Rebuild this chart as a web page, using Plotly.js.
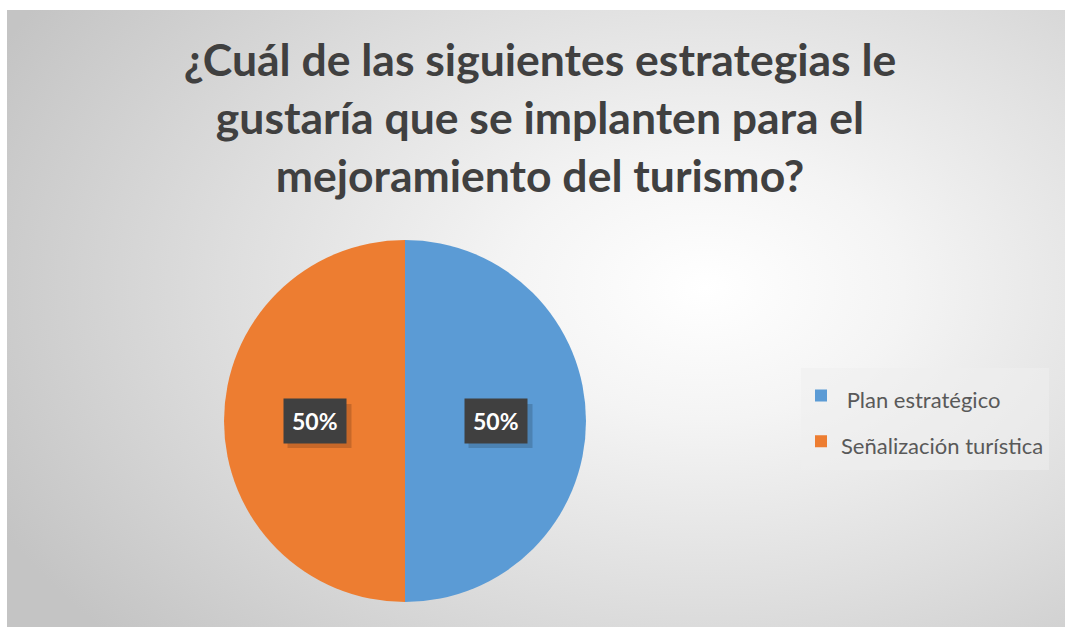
<!DOCTYPE html>
<html>
<head>
<meta charset="utf-8">
<script src="https://cdn.plot.ly/plotly-3.0.1.min.js"></script>
<style>
  html, body { margin:0; padding:0; background:#ffffff; }
  #wrap { position:relative; width:1065px; height:627px; overflow:hidden; }
  #bg { position:absolute; left:7px; top:10px; right:0; bottom:0;
        background: radial-gradient(ellipse 75% 85% at 66% 45%, #ffffff 0%, #f4f4f4 25%, #dedede 60%, #c4c4c4 100%); }
  #chart { position:absolute; left:0; top:0; width:1065px; height:627px; }
</style>
</head>
<body>
<div id="wrap"><div id="bg"></div><div id="chart"></div></div>
<script>
const categories = ["Plan estratégico", "Señalización turística"];
const values = [50, 50];
const colors = ["#5B9BD5", "#ED7D31"];
const titleText = "¿Cuál de las siguientes estrategias le<br>gustaría que se implanten para el<br>mejoramiento del turismo?";

const W = 1065, H = 627;
const cx = 405, cy = 421, R = 181;
const domX = [(cx - R) / W, (cx + R) / W];
const domY = [(H - cy - R) / H, (H - cy + R) / H];

// label annotations computed from the data (slice mid-angle, clockwise from 12 o'clock)
const total = values.reduce((a, b) => a + b, 0);
const annotations = [];
const shapes = [];
let cum = 0;
values.forEach((v, i) => {
  const mid = (cum + v / 2) / total * 2 * Math.PI;
  cum += v;
  const px = cx + 0.5 * R * Math.sin(mid);
  const py = cy - 0.5 * R * Math.cos(mid);
  const pct = Math.round(v / total * 100) + "%";
  // soft drop shadow behind the label box
  shapes.push({
    type: "rect", xref: "paper", yref: "paper", layer: "above",
    x0: (px - 27) / W, x1: (px + 37) / W,
    y0: (H - py - 27) / H, y1: (H - py + 17) / H,
    fillcolor: "rgba(0,0,0,0.16)", line: {width: 0}
  });
  annotations.push({
    xref: "paper", yref: "paper", x: px / W, y: (H - py) / H,
    xanchor: "center", yanchor: "middle",
    text: "<b>" + pct + "</b>", showarrow: false,
    font: {family: "Lato, sans-serif", size: 23, color: "#ffffff"},
    bgcolor: "#404040", borderpad: 8
  });
});

const legendLabels = categories.map((c, i) =>
  '<span style="font-size:22px">' + (i === 0 ? " " : "") + c + "</span>");

const data = [{
  type: "pie",
  labels: legendLabels,
  values: values,
  marker: {colors: colors},
  sort: false,
  direction: "clockwise",
  rotation: 0,
  textinfo: "none",
  hoverinfo: "percent",
  domain: {x: domX, y: domY}
}];

const layout = {
  width: W, height: H,
  margin: {l: 0, r: 0, t: 0, b: 0},
  paper_bgcolor: "rgba(0,0,0,0)",
  plot_bgcolor: "rgba(0,0,0,0)",
  title: {
    text: titleText,
    font: {family: "Lato, sans-serif", size: 44.5, color: "#404040", weight: "bold"},
    x: 540 / W, xanchor: "center",
    y: 1 - 76 / H, yanchor: "top"
  },
  showlegend: true,
  legend: {
    x: 801 / W, xanchor: "left",
    y: (H - 418.5) / H, yanchor: "middle",
    bgcolor: "rgba(238,238,238,0.55)",
    font: {family: "Lato, sans-serif", size: 33, color: "#595959"},
    itemwidth: 30
  },
  shapes: shapes,
  annotations: annotations
};

Plotly.newPlot("chart", data, layout, {displayModeBar: false, staticPlot: true});
</script>
</body>
</html>
